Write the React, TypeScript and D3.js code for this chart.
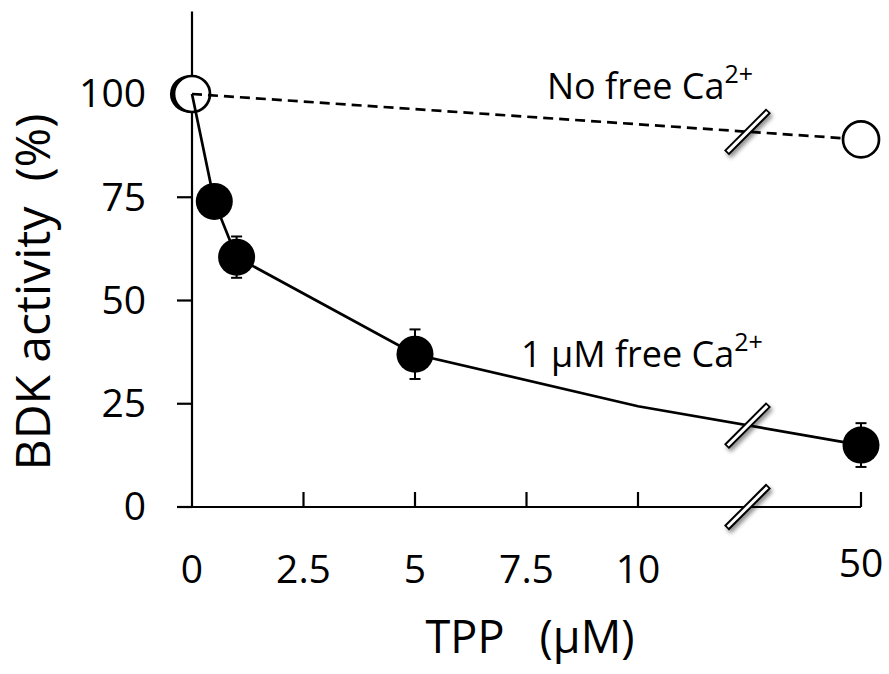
import React from "react";
import * as d3 from "d3";

// TPP (uM) vs BDK activity (%)
const xTicks = [0, 2.5, 5, 7.5, 10, 50];
const yTicks = [0, 25, 50, 75, 100];

// 1 uM free Ca2+ (filled)
const caX = [-0.08, 0.5, 1, 5, 50];
const caY = [100, 74, 60.5, 37, 15];
const caErr = [0, 3, 5, 6, 5.3];
// connecting curve for the filled series
const caLineX = [0, 0.5, 1, 5, 10, 50];
const caLineY = [100, 74, 60.5, 37, 24.4, 15];

// no free Ca2+ (open)
const noCaX = [0, 50];
const noCaY = [100, 89];

const xBreakValue = 30;
const font = "'Open Sans', 'Noto Sans', sans-serif";

const W = 889;
const H = 674;

export default function App() {
  // broken axis: 0..10 linear, then jump to 50
  const x = d3.scaleLinear().domain([0, 10, 50]).range([192, 638, 861]);
  const y = d3.scaleLinear().domain([0, 120]).range([507, 11.4]);

  const line = d3
    .line<[number, number]>()
    .x((d) => x(d[0]))
    .y((d) => y(d[1]));

  const caPts: [number, number][] = caLineX.map((v, i) => [v, caLineY[i]]);
  const noCaPts: [number, number][] = noCaX.map((v, i) => [v, noCaY[i]]);

  const xb = x(xBreakValue);
  // pixel y of a polyline at pixel x
  const yAt = (pts: [number, number][], px: number) => {
    for (let i = 0; i < pts.length - 1; i++) {
      const x0 = x(pts[i][0]);
      const x1 = x(pts[i + 1][0]);
      if (px >= x0 && px <= x1) {
        const t = (px - x0) / (x1 - x0);
        return y(pts[i][1]) + t * (y(pts[i + 1][1]) - y(pts[i][1]));
      }
    }
    return y(pts[pts.length - 1][1]);
  };
  const breaks = [yAt(noCaPts, xb), yAt(caPts, xb), y(0)];

  const breakMark = (cx: number, cy: number, k: number) => {
    const h = 21;
    return (
      <g key={k} filter="url(#shadow)">
        <line x1={cx - h} y1={cy + h} x2={cx + h} y2={cy - h} stroke="#000" strokeWidth={7} />
        <line x1={cx - h + 1.2} y1={cy + h - 1.2} x2={cx + h - 1.2} y2={cy - h + 1.2} stroke="#fff" strokeWidth={3} />
      </g>
    );
  };

  const r = 18.5;

  return (
    <svg width={W} height={H} style={{ position: "absolute", left: 0, top: 0, background: "#fff" }}>
      <defs>
        <filter id="shadow" x="-50%" y="-50%" width="200%" height="200%">
          <feDropShadow dx={2} dy={3} stdDeviation={2} floodColor="#000" floodOpacity={0.45} />
        </filter>
      </defs>

      {/* axes */}
      <line x1={x(0)} y1={y(120)} x2={x(0)} y2={y(0)} stroke="#000" strokeWidth={2.2} />
      <line x1={x(0) - 15} y1={y(0)} x2={x(50)} y2={y(0)} stroke="#000" strokeWidth={2.2} />
      {yTicks.map((t) => (
        <g key={"y" + t}>
          <line x1={x(0) - 15} x2={x(0)} y1={y(t)} y2={y(t)} stroke="#000" strokeWidth={2.2} />
          <text x={146} y={y(t)} dy="0.34em" textAnchor="end" fontFamily={font} fontSize={39}>
            {t}
          </text>
        </g>
      ))}
      {xTicks.map((t) => (
        <g key={"x" + t}>
          {t !== 0 && <line x1={x(t)} x2={x(t)} y1={y(0)} y2={y(0) - 15} stroke="#000" strokeWidth={2.2} />}
          <text x={x(t)} y={t === 50 ? 577 : 583} textAnchor="middle" fontFamily={font} fontSize={39}>
            {t}
          </text>
        </g>
      ))}

      {/* axis titles */}
      <text
        transform="translate(50,292) rotate(-90)"
        textAnchor="middle"
        fontFamily={font}
        fontSize={48}
        style={{ whiteSpace: "pre" }}
      >
        {"BDK activity  (%)"}
      </text>
      <text x={530} y={653} textAnchor="middle" fontFamily={font} fontSize={45} style={{ whiteSpace: "pre" }}>
        {"TPP   (\u03bcM)"}
      </text>

      {/* error bars */}
      {caX.map((v, i) =>
        caErr[i] > 0 ? (
          <g key={"e" + i} stroke="#000" strokeWidth={2}>
            <line x1={x(v)} x2={x(v)} y1={y(caY[i] - caErr[i])} y2={y(caY[i] + caErr[i])} />
            <line x1={x(v) - 5.5} x2={x(v) + 5.5} y1={y(caY[i] + caErr[i])} y2={y(caY[i] + caErr[i])} />
            <line x1={x(v) - 5.5} x2={x(v) + 5.5} y1={y(caY[i] - caErr[i])} y2={y(caY[i] - caErr[i])} />
          </g>
        ) : null
      )}

      {/* filled markers */}
      {caX.map((v, i) => (
        <circle key={"f" + i} cx={x(v)} cy={y(caY[i])} r={r} fill="#000" />
      ))}
      {/* open marker at 0 sits over the filled one */}
      <circle cx={x(noCaX[0])} cy={y(noCaY[0])} r={18} fill="#fff" stroke="#000" strokeWidth={2.7} />

      {/* lines */}
      <path d={line(caPts) || ""} fill="none" stroke="#000" strokeWidth={2.7} />
      <path d={line(noCaPts) || ""} fill="none" stroke="#000" strokeWidth={2.7} strokeDasharray="10,6" />

      {/* remaining open markers */}
      {noCaX.slice(1).map((v, i) => (
        <circle key={"o" + i} cx={x(v)} cy={y(noCaY[i + 1])} r={18} fill="#fff" stroke="#000" strokeWidth={2.7} />
      ))}

      {/* axis breaks */}
      {breaks.map((by, i) => breakMark(xb - 2, by, i))}

      {/* annotations */}
      <text x={547} y={99} fontFamily={font} fontSize={36}>
        No free Ca
        <tspan fontSize={25} dy={-16}>2+</tspan>
      </text>
      <text x={521} y={367} fontFamily={font} fontSize={36}>
        1 {"\u03bc"}M free Ca
        <tspan fontSize={25} dy={-16}>2+</tspan>
      </text>
    </svg>
  );
}
